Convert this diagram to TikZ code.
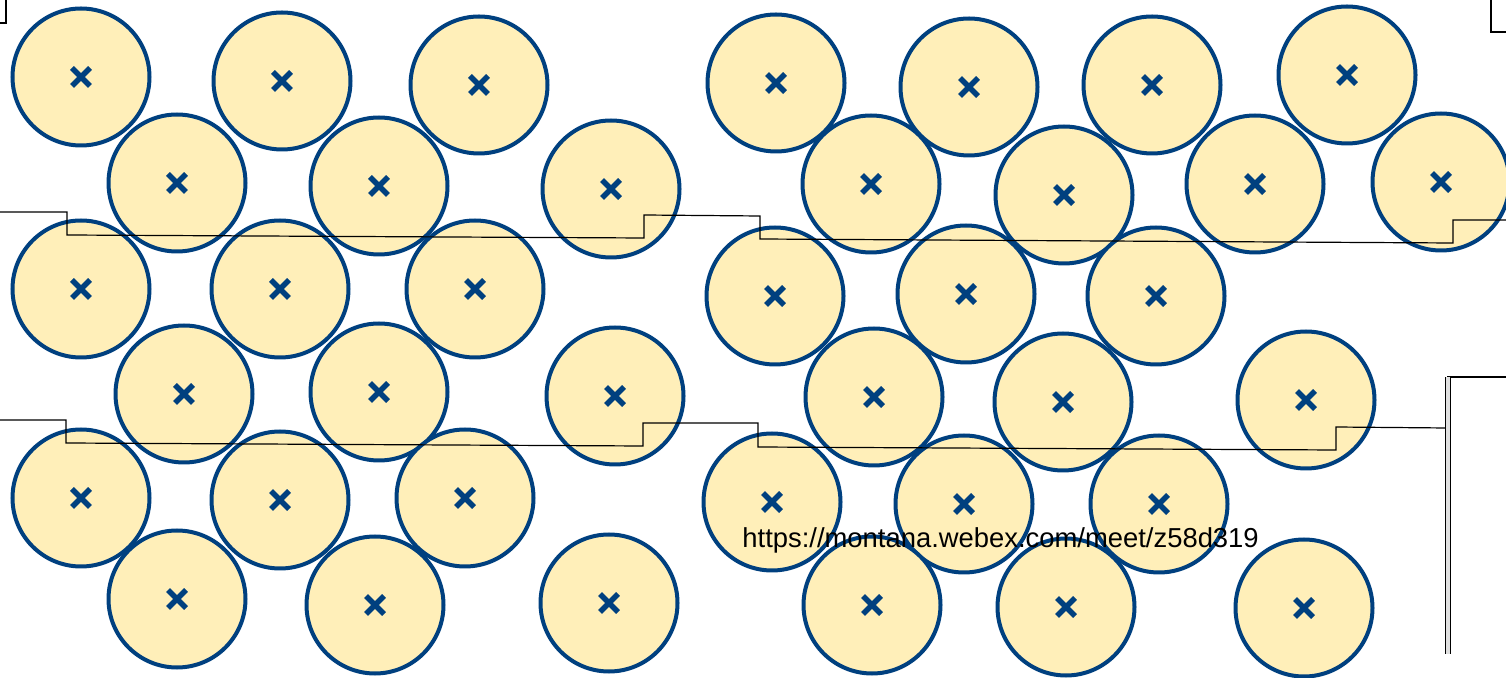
\documentclass[tikz,border=0pt]{standalone}
\usepackage{fontspec}
\setmainfont{Liberation Sans}
\usetikzlibrary{positioning}
\definecolor{diskfill}{HTML}{FFEFB9}
\definecolor{diskline}{HTML}{00407F}

\begin{document}
\begin{tikzpicture}[x=0.5pt, y=-0.5pt,
    disk/.style={circle, draw=diskline, fill=diskfill, line width=2pt,
                 minimum size=68.5pt, inner sep=0pt},
    cross/.style={diskline, line width=2.7pt},
    wire/.style={black, line width=0.6pt},
    frame/.style={black, line width=0.9pt}
]
    \useasboundingbox (0,0) rectangle (1506,678);

    % left group of disks
    \foreach \x/\y [count=\i] in {81/77, 282/81, 479/85,
                                  177/183, 379/186, 611/189,
                                  81/289, 280/289, 475/289,
                                  184/394, 379/392, 615/396,
                                  81/498, 280/500, 465/498,
                                  177/599, 375/605, 609/603} {
        \node[disk] (L\i) at (\x,\y) {};
        \draw[cross] (L\i.center) +(-9,-9) -- +(9,9)
                     (L\i.center) +(-9,9) -- +(9,-9);
    }

    % right group of disks
    \foreach \x/\y [count=\i] in {776/83, 969/87, 1152/85, 1347/75,
                                  871/184, 1064/195, 1255/184, 1441/182,
                                  775/296, 966/294, 1156/296,
                                  874/397, 1063/402, 1306/400,
                                  772/502, 964/504, 1159/504,
                                  872/605, 1066/607, 1304/608} {
        \node[disk] (R\i) at (\x,\y) {};
        \draw[cross] (R\i.center) +(-9,-9) -- +(9,9)
                     (R\i.center) +(-9,9) -- +(9,-9);
    }

    % corner marks
    \draw[frame] (0,23) -- (6,23) -- (6,0);
    \draw[frame] (1491,0) -- (1491,32) -- (1506,32);

    % stepped lines
    \draw[wire] (0,212) -- (67,212) -- (67,235) -- (644,238) -- (644,215)
        -- (760,216) -- (760,239) -- (1453,243) -- (1453,220) -- (1506,220);
    \draw[wire] (0,420) -- (66,420) -- (66,443) -- (643,446) -- (643,423)
        -- (758,423) -- (758,447) -- (1336,450) -- (1336,427) -- (1447,428);

    % right bracket
    \draw[frame] (1506,377) -- (1447,377);
    \draw[black, line width=0.5pt, double=black!12, double distance=1.6pt]
        (1448,377) -- (1448,654);

    % link text
    \node[anchor=base west, inner sep=0pt, font=\fontsize{13.7}{16}\selectfont]
        (link) at (742,548) {https://montana.webex.com/meet/z58d319};
\end{tikzpicture}
\end{document}
